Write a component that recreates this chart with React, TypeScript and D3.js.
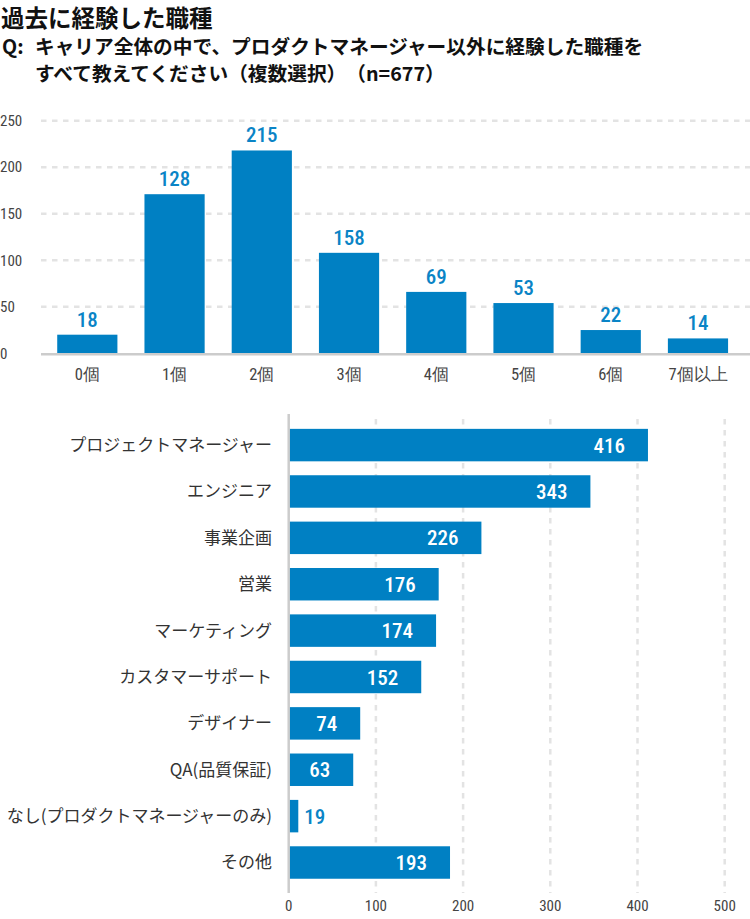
import React, { useEffect, useRef } from "react";
import * as d3 from "d3";

const width = 750,
  height = 919;

const barColor = "#0080c3";
const labelBlue = "#0a84c6";
const axisGray = "#cccccc";
const gridGray = "#e3e3e3";
const textGray = "#444444";

const numFont = "'Roboto Condensed', 'Liberation Sans Narrow', Roboto, sans-serif";
const jpFont = "'Noto Sans CJK JP', sans-serif";

// top chart: how many other jobs
const countCategories = ["0個", "1個", "2個", "3個", "4個", "5個", "6個", "7個以上"];
const countBarValues = [20, 171, 218, 108, 66, 54, 25, 16];
const countLabels = ["18", "128", "215", "158", "69", "53", "22", "14"];
const countTicks = [0, 50, 100, 150, 200, 250];

// bottom chart: job types
const jobCategories = [
  "プロジェクトマネージャー",
  "エンジニア",
  "事業企画",
  "営業",
  "マーケティング",
  "カスタマーサポート",
  "デザイナー",
  "QA(品質保証)",
  "なし(プロダクトマネージャーのみ)",
  "その他",
];
const jobBarValues = [412, 346, 221, 172, 169, 152, 82, 74, 11, 185];
const jobLabels = ["416", "343", "226", "176", "174", "152", "74", "63", "19", "193"];
const jobTicks = [0, 100, 200, 300, 400, 500];

function drawTitle(svg) {
  svg
    .append("text")
    .attr("x", 1)
    .attr("y", 27)
    .attr("font-family", jpFont)
    .attr("font-weight", 700)
    .attr("font-size", 23.5)
    .attr("fill", "#111")
    .text("過去に経験した職種");

  var q = svg
    .append("g")
    .attr("font-family", jpFont)
    .attr("font-weight", 700)
    .attr("font-size", 19.7)
    .attr("fill", "#111");
  q.append("text").attr("x", 2).attr("y", 54).text("Q:");
  q.append("text")
    .attr("x", 35)
    .attr("y", 54)
    .text("キャリア全体の中で、プロダクトマネージャー以外に経験した職種を");
  q.append("text")
    .attr("x", 35)
    .attr("y", 81)
    .text("すべて教えてください（複数選択）　（n=677）");
}

function drawCountChart(svg) {
  var x = d3
    .scaleBand()
    .domain(countCategories)
    .range([43.7, 741.6])
    .paddingInner(0.31)
    .paddingOuter(0.155);
  var y = d3.scaleLinear().domain([0, 250]).range([353.3, 120.7]);

  var g = svg.append("g");

  g.selectAll("line.grid")
    .data(countTicks.filter(t => t > 0))
    .enter()
    .append("line")
    .attr("class", "grid")
    .attr("x1", 41)
    .attr("x2", width)
    .attr("y1", d => y(d))
    .attr("y2", d => y(d))
    .attr("stroke", gridGray)
    .attr("stroke-width", 2.5)
    .attr("stroke-dasharray", "5.5 5.5");

  g.selectAll("text.ytick")
    .data(countTicks)
    .enter()
    .append("text")
    .attr("class", "ytick")
    .attr("x", 0)
    .attr("y", d => y(d))
    .attr("dy", "0.35em")
    .attr("font-family", numFont)
    .attr("font-weight", 400)
    .attr("font-size", 15)
    .attr("fill", textGray)
    .text(d => d);

  g.selectAll("rect")
    .data(countBarValues)
    .enter()
    .append("rect")
    .attr("x", (d, i) => x(countCategories[i]))
    .attr("width", x.bandwidth())
    .attr("y", d => y(d))
    .attr("height", d => y(0) - y(d))
    .attr("fill", barColor);

  g.append("line")
    .attr("x1", 41)
    .attr("x2", width)
    .attr("y1", y(0) + 1)
    .attr("y2", y(0) + 1)
    .attr("stroke", axisGray)
    .attr("stroke-width", 2.5);

  g.selectAll("text.val")
    .data(countBarValues)
    .enter()
    .append("text")
    .attr("class", "val")
    .attr("x", (d, i) => x(countCategories[i]) + x.bandwidth() / 2)
    .attr("y", d => y(d) - 8)
    .attr("text-anchor", "middle")
    .attr("font-family", numFont)
    .attr("font-weight", 500)
    .attr("font-size", 21)
    .attr("fill", labelBlue)
    .text((d, i) => countLabels[i]);

  g.selectAll("text.xtick")
    .data(countCategories)
    .enter()
    .append("text")
    .attr("class", "xtick")
    .attr("x", d => x(d) + x.bandwidth() / 2)
    .attr("y", 380)
    .attr("text-anchor", "middle")
    .attr("font-family", numFont)
    .attr("font-weight", 400)
    .attr("font-size", 16.5)
    .attr("fill", textGray)
    .text(d => d);
}

function drawJobChart(svg) {
  var x = d3.scaleLinear().domain([0, 500]).range([288.7, 724.7]);
  var y = d3
    .scaleBand()
    .domain(jobCategories)
    .range([421.9, 885.7])
    .paddingInner(0.3)
    .paddingOuter(0.15);

  var g = svg.append("g");

  g.selectAll("line.grid")
    .data(jobTicks.filter(t => t > 0))
    .enter()
    .append("line")
    .attr("class", "grid")
    .attr("x1", d => x(d))
    .attr("x2", d => x(d))
    .attr("y1", 419)
    .attr("y2", 893)
    .attr("stroke", gridGray)
    .attr("stroke-width", 2.5)
    .attr("stroke-dasharray", "5.5 5.5");

  g.selectAll("rect")
    .data(jobBarValues)
    .enter()
    .append("rect")
    .attr("x", x(0))
    .attr("y", (d, i) => y(jobCategories[i]))
    .attr("width", d => x(d) - x(0))
    .attr("height", y.bandwidth())
    .attr("fill", barColor);

  g.append("line")
    .attr("x1", x(0))
    .attr("x2", x(0))
    .attr("y1", 414)
    .attr("y2", 893)
    .attr("stroke", axisGray)
    .attr("stroke-width", 2.5);

  g.selectAll("text.cat")
    .data(jobCategories)
    .enter()
    .append("text")
    .attr("class", "cat")
    .attr("x", 272)
    .attr("y", d => y(d) + y.bandwidth() / 2)
    .attr("dy", "0.35em")
    .attr("text-anchor", "end")
    .attr("font-family", jpFont)
    .attr("font-size", 17)
    .attr("fill", "#333")
    .text(d => d);

  g.selectAll("text.val")
    .data(jobBarValues)
    .enter()
    .append("text")
    .attr("class", "val")
    .attr("x", d => (x(d) - x(0) < 40 ? x(d) + 6 : x(d) - 23))
    .attr("y", (d, i) => y(jobCategories[i]) + y.bandwidth() / 2)
    .attr("dy", "0.36em")
    .attr("text-anchor", d => (x(d) - x(0) < 40 ? "start" : "end"))
    .attr("font-family", numFont)
    .attr("font-weight", 500)
    .attr("font-size", 21)
    .attr("fill", d => (x(d) - x(0) < 40 ? labelBlue : "#fff"))
    .text((d, i) => jobLabels[i]);

  g.selectAll("text.xtick")
    .data(jobTicks)
    .enter()
    .append("text")
    .attr("class", "xtick")
    .attr("x", d => x(d))
    .attr("y", 911)
    .attr("text-anchor", "middle")
    .attr("font-family", numFont)
    .attr("font-weight", 400)
    .attr("font-size", 15)
    .attr("fill", textGray)
    .text(d => d);
}

export default function App() {
  const svgRef = useRef(null);

  useEffect(() => {
    var svg = d3.select(svgRef.current);
    svg.selectAll("*").remove();
    drawTitle(svg);
    drawCountChart(svg);
    drawJobChart(svg);
  }, []);

  return (
    <div>
      <style>{`body{margin:0;}`}</style>
      <svg ref={svgRef} width={width} height={height} style={{ display: "block" }}></svg>
    </div>
  );
}
